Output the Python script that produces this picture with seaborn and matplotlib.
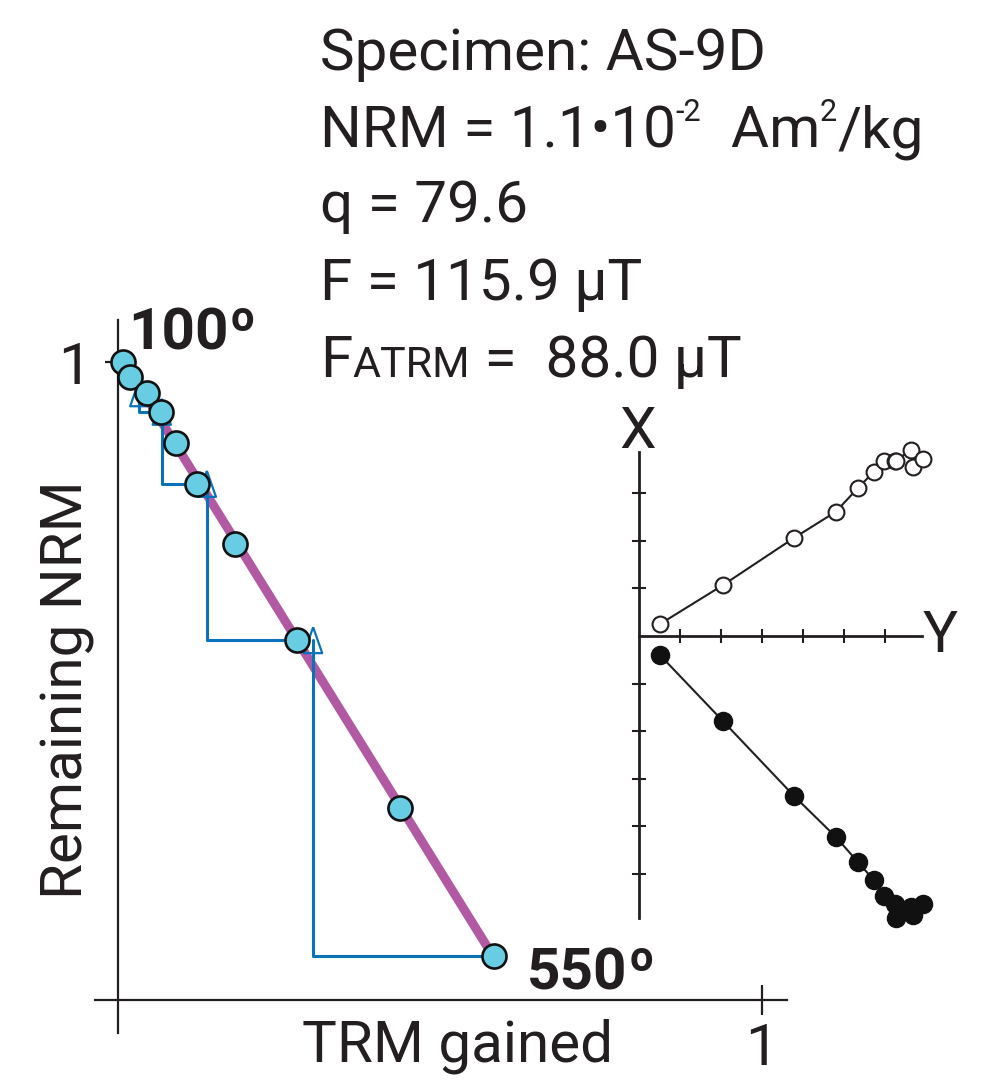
import numpy as np
import matplotlib
matplotlib.use("Agg")
import matplotlib.pyplot as plt
import seaborn as sns

sns.set_theme(style="white")
plt.rcParams["font.family"] = ["Roboto", "DejaVu Sans"]

INK = "#231F20"
CYAN = "#68CDE3"
PURPLE = "#B15AA3"
BLUE = "#0A72BA"

# ---- Arai plot data (normalized) ----
trm_gained = [0.008, 0.019, 0.045, 0.067, 0.090, 0.123, 0.182, 0.278, 0.438, 0.584]
nrm_remaining = [1.000, 0.976, 0.951, 0.922, 0.873, 0.809, 0.715, 0.564, 0.301, 0.069]
step_labels = ["100", "550"]

# pTRM checks: TRM value of the check, step it starts from, step it is compared with
check_trm = [0.033, 0.068, 0.138, 0.303]
check_from = [2, 3, 5, 7]
check_to = [3, 5, 7, 9]

# ---- Orthogonal (Zijderveld) projection, in tick units ----
zij_y = [0.51, 2.05, 3.78, 4.80, 5.34, 5.73, 5.98, 6.24, 6.26, 6.63, 6.68, 6.93]
zij_x = [0.25, 1.07, 2.06, 2.61, 3.11, 3.45, 3.68, 3.68, 3.68, 3.91, 3.55, 3.72]
zij_z = [-0.40, -1.79, -3.36, -4.22, -4.75, -5.13, -5.46, -5.63, -5.92, -5.69, -5.86, -5.63]
zij_xticks = [1, 2, 3, 4, 5, 6]
zij_yticks = [-5, -4, -3, -2, -1, 1, 2, 3]

# ---- Annotation text ----
specimen = "Specimen: AS-9D"
nrm_parts = ["NRM = 1.1•10", "-2", "  Am", "2", "/kg"]
q_text = "q = 79.6"
f_text = "F = 115.9 µT"
fatrm_parts = ["F", "ATRM", " =  88.0 µT"]

W, H = 990, 1080
fig = plt.figure(figsize=(W / 100, H / 100), dpi=100)
fig.patch.set_facecolor("white")


def fbox(left, top, right, bottom):
    return [left / W, 1 - bottom / H, (right - left) / W, (bottom - top) / H]


# ---------------- Arai plot ----------------
ax = fig.add_axes(fbox(95, 320, 787, 1033))
ax.set_facecolor("none")
ax.set_xlim((95 - 118) / 644, (787 - 118) / 644)
ax.set_ylim((1000 - 1033) / 638, (1000 - 320) / 638)
for side in ("top", "right"):
    ax.spines[side].set_visible(False)
ax.spines["left"].set_position(("data", 0))
ax.spines["bottom"].set_position(("data", 0))
for side in ("left", "bottom"):
    ax.spines[side].set_color(INK)
    ax.spines[side].set_linewidth(1.6)
ax.set_xticks([1])
ax.set_yticks([1])
ax.set_xticklabels(["1"])
ax.set_yticklabels(["1"])
ax.tick_params(axis="x", bottom=True, direction="inout", length=22, width=1.6,
               color=INK, labelsize=42, labelcolor=INK, pad=5)
ax.tick_params(axis="y", left=True, direction="inout", length=19, width=1.6,
               color=INK, labelsize=42, labelcolor=INK, pad=10)

# best-fit line through the Arai points
slope, icpt = np.polyfit(trm_gained, nrm_remaining, 1)
fit_x = np.array([trm_gained[0], trm_gained[-1]])
sns.lineplot(x=fit_x, y=slope * fit_x + icpt, ax=ax, color=PURPLE, linewidth=6.5,
             solid_capstyle="butt", zorder=2)

# pTRM check paths and triangles
for cx, i, j in zip(check_trm, check_from, check_to):
    path_x = [cx, cx, trm_gained[j]]
    path_y = [nrm_remaining[i], nrm_remaining[j], nrm_remaining[j]]
    sns.lineplot(x=path_x, y=path_y, sort=False, estimator=None, errorbar=None,
                 ax=ax, color=BLUE, linewidth=2.2, zorder=3)
tri = [(0, 1), (-0.7, -1), (0.7, -1), (0, 1)]
sns.scatterplot(x=check_trm, y=[nrm_remaining[i] for i in check_from], ax=ax,
                marker=tri, s=350, facecolor="none", edgecolor=BLUE, linewidth=1.6,
                zorder=4)

# Arai points
sns.scatterplot(x=trm_gained, y=nrm_remaining, ax=ax, s=300, color=CYAN,
                edgecolor="#111111", linewidth=1.9, zorder=5, clip_on=False)

ax.set_xlabel("TRM gained", fontsize=42, color=INK)
ax.xaxis.set_label_coords((458 - 95) / 692, (1033 - 1062) / 713)
ax.xaxis.label.set_verticalalignment("baseline")
ax.set_ylabel("Remaining NRM", fontsize=42, color=INK)
ax.yaxis.set_label_coords((83 - 95) / 692, (1033 - 690) / 713)
ax.yaxis.label.set_verticalalignment("baseline")

# temperature step labels
for (idx, dx, dy), lab in zip([(0, 5, 12), (-1, 33, -34)], step_labels):
    t = ax.annotate(lab, xy=(trm_gained[idx], nrm_remaining[idx]), xytext=(dx, dy),
                    textcoords="offset pixels", fontsize=42, fontweight="bold",
                    color=INK, ha="left", va="baseline", annotation_clip=False)
    ax.annotate("o", xy=(1, 1), xycoords=t, xytext=(2, 8), textcoords="offset pixels",
                fontsize=30, fontweight="bold", color=INK, ha="left", va="top",
                annotation_clip=False)

# ---------------- Orthogonal projection inset ----------------
az = fig.add_axes(fbox(639, 452, 922, 918))
az.set_facecolor("none")
az.set_xlim(0, (922 - 639) / 41)
az.set_ylim(-(918 - 636) / 47.6, (636 - 452) / 47.6)
for side in ("top", "right"):
    az.spines[side].set_visible(False)
az.spines["bottom"].set_position(("data", 0))
for side in ("left", "bottom"):
    az.spines[side].set_color(INK)
    az.spines[side].set_linewidth(2.0)
az.set_xticks(zij_xticks)
az.set_yticks(zij_yticks)
az.set_xticklabels([])
az.set_yticklabels([])
az.tick_params(bottom=True, left=True, direction="inout", length=10, width=1.5,
               color=INK)

sns.lineplot(x=zij_y, y=zij_x, sort=False, estimator=None, errorbar=None, ax=az,
             color=INK, linewidth=1.5, zorder=2)
sns.lineplot(x=zij_y, y=zij_z, sort=False, estimator=None, errorbar=None, ax=az,
             color=INK, linewidth=1.5, zorder=2)
sns.scatterplot(x=zij_y, y=zij_x, ax=az, s=130, color="white", edgecolor=INK,
                linewidth=1.5, zorder=3, clip_on=False)
sns.scatterplot(x=zij_y, y=zij_z, ax=az, s=170, color="#111111", edgecolor="#111111",
                linewidth=1.0, zorder=3, clip_on=False)
az.set_xlabel("")
az.set_ylabel("")
fig.text(638 / W, 1 - 432 / H, "X", fontsize=42, color=INK, ha="center", va="center")
fig.text(940 / W, 1 - 636 / H, "Y", fontsize=42, color=INK, ha="center", va="center")


# ---------------- Specimen summary ----------------
def text_run(pieces, x_px, base_px):
    prev = None
    for text, size, rise in pieces:
        y = H - base_px + rise
        if prev is None:
            prev = fig.text(x_px / W, y / H, text, fontsize=size, color=INK,
                            ha="left", va="baseline")
        else:
            prev = ax.annotate(text, xy=(1, y), xycoords=(prev, "figure pixels"),
                               fontsize=size, color=INK, ha="left", va="baseline",
                               annotation_clip=False)


text_run([(specimen, 42, 0)], 320, 70)
text_run([(nrm_parts[0], 42, 0), (nrm_parts[1], 22, 26), (nrm_parts[2], 42, 0),
          (nrm_parts[3], 22, 26), (nrm_parts[4], 42, 0)], 320, 147)
text_run([(q_text, 42, 0)], 320, 222)
text_run([(f_text, 42, 0)], 320, 300)
text_run([(fatrm_parts[0], 42, 0), (fatrm_parts[1], 31, 0), (fatrm_parts[2], 42, 0)],
         320, 377)

fig.savefig("out.png", dpi=100, facecolor="white")
